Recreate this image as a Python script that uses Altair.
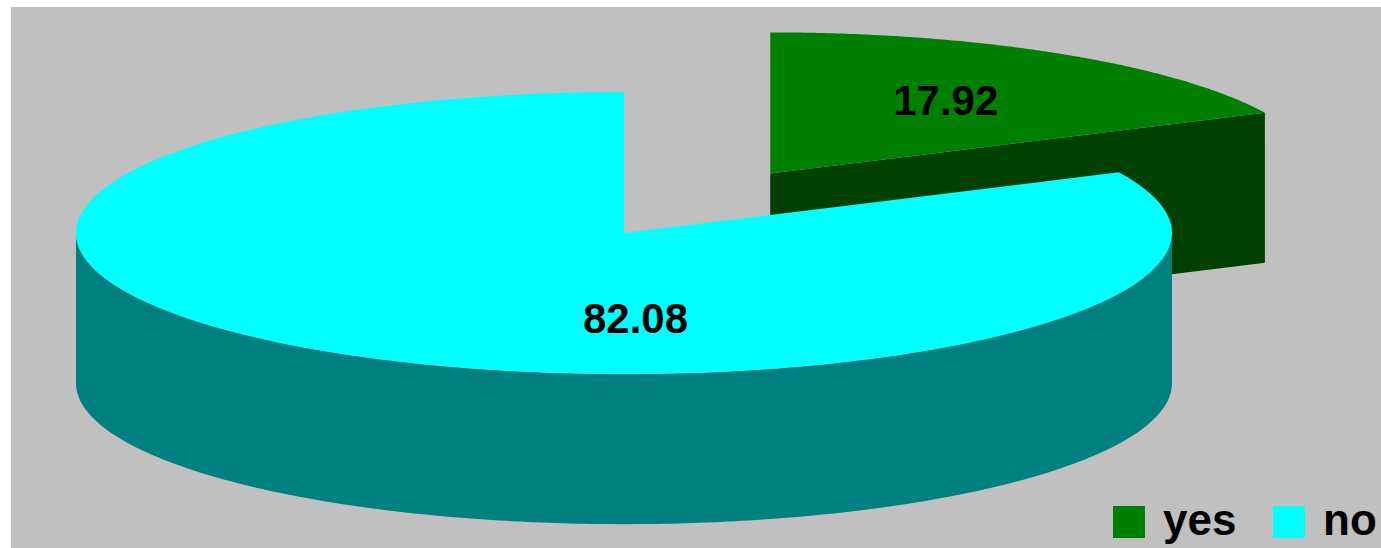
import numpy as np
import pandas as pd
import altair as alt

# ---- data ----
categories = ["yes", "no"]
values = [17.92, 82.08]
label_texts = ["17.92", "82.08"]
exploded = [True, False]

parts = ["yes", "no", "yes side", "no side"]
part_colors = ["#008000", "#00FFFF", "#004000", "#008080"]

# ---- 3D pie geometry parameters (data units; x radius = 1) ----
RX = 1.0
RY = 0.2573
DEPTH = 0.274
EXPLODE = 0.5
START = 90.0
N = 240
LABEL_R = 0.6

total = sum(values)


def pt(cx, cy, ang, dz=0.0):
    r = np.radians(ang)
    return cx + RX * np.cos(r), cy + RY * np.sin(r) - dz


def poly(points, name, part):
    xs, ys = zip(*points)
    return pd.DataFrame({"x": xs, "y": ys, "idx": range(len(xs)), "face": name, "part": part})


slices = []
cum = 0.0
for cat, v, ex, lab in zip(categories, values, exploded, label_texts):
    a0 = START - 360 * cum / total
    a1 = START - 360 * (cum + v) / total
    cum += v
    mid = (a0 + a1) / 2
    ox = EXPLODE * RX * np.cos(np.radians(mid)) if ex else 0.0
    oy = EXPLODE * RY * np.sin(np.radians(mid)) if ex else 0.0
    slices.append(dict(cat=cat, v=v, a0=a0, a1=a1, mid=mid, ox=ox, oy=oy, lab=lab))

# back slices first
slices.sort(key=lambda s: -np.sin(np.radians(s["mid"])))

faces = []
labels = []
for s in slices:
    cx, cy, a0, a1, cat = s["ox"], s["oy"], s["a0"], s["a1"], s["cat"]
    side = cat + " side"
    # radial faces
    if np.cos(np.radians(a0)) < -1e-9:
        e = pt(cx, cy, a0)
        eb = pt(cx, cy, a0, DEPTH)
        faces.append(poly([(cx, cy), e, eb, (cx, cy - DEPTH)], cat + "_r0", side))
    if np.cos(np.radians(a1)) > 1e-9:
        e = pt(cx, cy, a1)
        eb = pt(cx, cy, a1, DEPTH)
        faces.append(poly([(cx, cy), e, eb, (cx, cy - DEPTH)], cat + "_r1", side))
    # outer visible side (front half: sin < 0)
    for k in range(-3, 3):
        lo = max(a1, -180 + 360 * k)
        hi = min(a0, 0 + 360 * k)
        if hi - lo > 1e-6:
            angs = np.linspace(lo, hi, N)
            top = [pt(cx, cy, a) for a in angs]
            bot = [pt(cx, cy, a, DEPTH) for a in angs[::-1]]
            faces.append(poly(top + bot, f"{cat}_side{k}", side))
    # top face
    angs = np.linspace(a0, a1, N)
    faces.append(poly([(cx, cy)] + [pt(cx, cy, a) for a in angs], cat + "_top", cat))
    # label
    la = 272.0 if s["v"] / total > 0.5 else s["mid"]
    lx = cx + LABEL_R * RX * np.cos(np.radians(la))
    ly = cy + 0.62 * RY * np.sin(np.radians(la)) if s["v"] / total > 0.5 else cy + LABEL_R * RY * np.sin(np.radians(la))
    labels.append(dict(x=lx, y=ly, text=s["lab"]))

xscale = alt.Scale(domain=[-1.11861, 1.38139], nice=False, zero=False)
yscale = alt.Scale(domain=[-0.57482, 0.41241], nice=False, zero=False)
cscale = alt.Scale(domain=parts, range=part_colors)

layers = []
for f in faces:
    layers.append(
        alt.Chart(f)
        .mark_line(filled=True, strokeWidth=0)
        .encode(
            x=alt.X("x:Q", scale=xscale, axis=None),
            y=alt.Y("y:Q", scale=yscale, axis=None),
            order=alt.Order("idx:Q"),
            color=alt.Color(
                "part:N",
                scale=cscale,
                legend=alt.Legend(
                    values=["yes", "no"],
                    title=None,
                    orient="none",
                    legendX=1096,
                    legendY=493,
                    direction="horizontal",
                    symbolType="square",
                    symbolSize=1024,
                    symbolStrokeWidth=0,
                    labelFont="Liberation Sans",
                    labelFontSize=44,
                    labelFontWeight="bold",
                    labelColor="black",
                    labelOffset=12,
                    columnPadding=30,
                    padding=0,
                ),
            ),
        )
    )

text = (
    alt.Chart(pd.DataFrame(labels))
    .mark_text(font="Liberation Sans", fontSize=42, fontWeight="bold", color="black",
               align="center", baseline="middle")
    .encode(x=alt.X("x:Q", scale=xscale, axis=None), y=alt.Y("y:Q", scale=yscale, axis=None), text="text:N")
)

chart = (
    alt.layer(*layers, text)
    .properties(
        width=1370,
        height=541,
        background="white",
        padding={"left": 11, "top": 7, "right": 0, "bottom": 0},
        autosize=alt.AutoSizeParams(type="none"),
    )
    .configure_view(fill="#C0C0C0", strokeWidth=0)
)

chart.save("out.html", embed_options={"renderer": "svg", "actions": False})
